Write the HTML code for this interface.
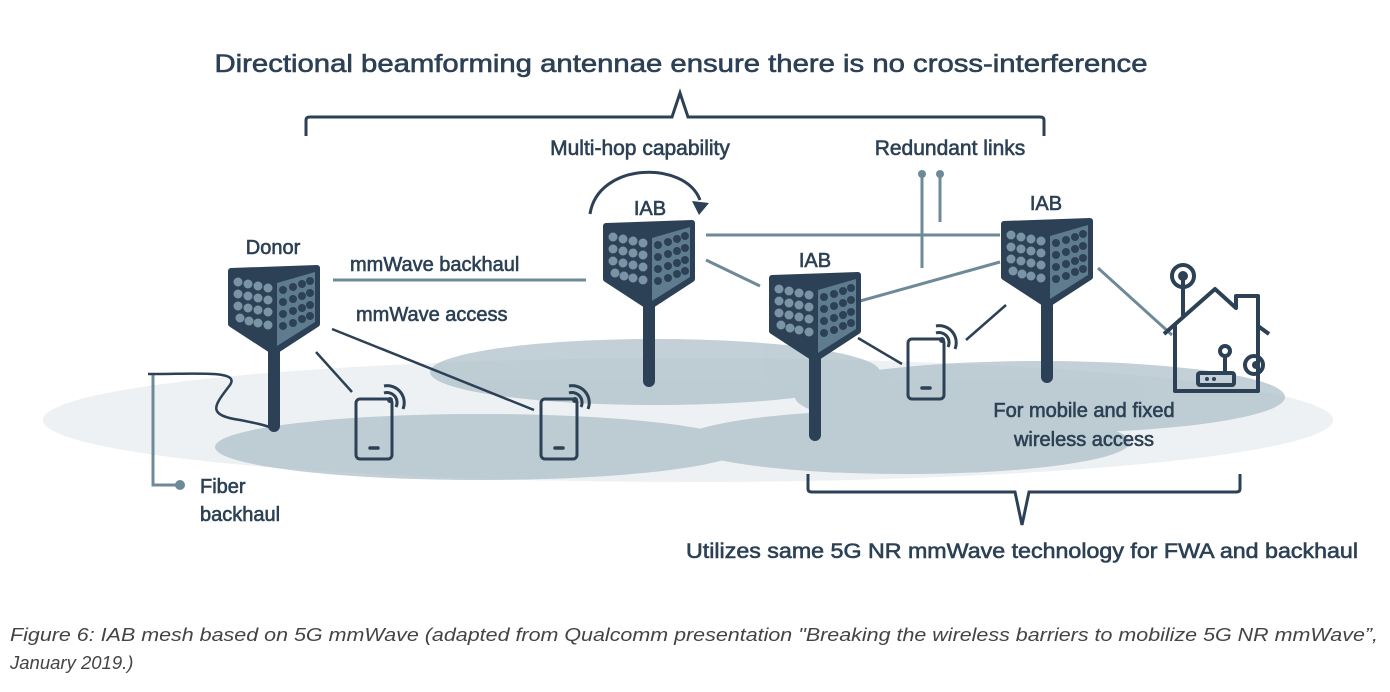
<!DOCTYPE html>
<html><head><meta charset="utf-8"><style>
body{margin:0;background:#fff}
svg{display:block}
text{font-family:"Liberation Sans",sans-serif;fill:#2c4155}
.t{stroke:#2c4155;stroke-width:0.6}
</style></head><body>
<svg width="1390" height="692" viewBox="0 0 1390 692" xmlns="http://www.w3.org/2000/svg">
<defs>
<g id="ant">
  <polygon points="3,5 89,2 89,58 46,86 3,58" fill="#2c4155" stroke="#2c4155" stroke-width="6" stroke-linejoin="round"/>
  <polygon points="49,17 87,6 87,56 49,80" fill="#5f7c8e"/>
  <g fill="#7a94a5">
    <circle cx="10" cy="16" r="4.5"/><circle cx="20" cy="18" r="4.5"/><circle cx="30" cy="20" r="4.5"/><circle cx="40" cy="22" r="4.5"/>
    <circle cx="10" cy="28" r="4.5"/><circle cx="20" cy="30" r="4.5"/><circle cx="30" cy="32" r="4.5"/><circle cx="40" cy="34" r="4.5"/>
    <circle cx="10" cy="40" r="4.5"/><circle cx="20" cy="42" r="4.5"/><circle cx="30" cy="44" r="4.5"/><circle cx="40" cy="46" r="4.5"/>
    <circle cx="12" cy="52" r="4.5"/><circle cx="21" cy="55" r="4.5"/><circle cx="30" cy="57" r="4.5"/><circle cx="40" cy="59" r="4.5"/>
  </g>
  <g fill="#2c4155">
    <circle cx="55" cy="24" r="4"/><circle cx="65" cy="21" r="4"/><circle cx="74" cy="18" r="4"/><circle cx="82" cy="15" r="4"/>
    <circle cx="55" cy="36" r="4"/><circle cx="65" cy="33" r="4"/><circle cx="74" cy="30" r="4"/><circle cx="82" cy="27" r="4"/>
    <circle cx="55" cy="48" r="4"/><circle cx="65" cy="45" r="4"/><circle cx="74" cy="42" r="4"/><circle cx="82" cy="39" r="4"/>
    <circle cx="55" cy="60" r="4"/><circle cx="65" cy="57" r="4"/><circle cx="74" cy="53" r="4"/><circle cx="82" cy="50" r="4"/>
  </g>
</g>
<g id="phone" fill="none" stroke="#2c4155" stroke-width="3">
  <rect x="0" y="0" width="36" height="60" rx="4"/>
  <line x1="14" y1="49" x2="22" y2="49" stroke-width="3.5" stroke-linecap="round"/>
  <path d="M28,-6 A10,10 0 0 1 40,8"/>
  <path d="M28,-13 A17,17 0 0 1 47,10"/>
  <circle cx="34" cy="1" r="3" fill="#2c4155" stroke="none"/>
</g>
</defs>

<!-- ground -->
<ellipse cx="688" cy="420" rx="645" ry="62" fill="#eef1f3"/>
<g fill="#a9bcc6" opacity="0.7">
<ellipse cx="480" cy="447" rx="265" ry="33"/>
<ellipse cx="655" cy="372" rx="225" ry="33"/>
<ellipse cx="905" cy="442" rx="225" ry="32"/>
<ellipse cx="1040" cy="397" rx="245" ry="36"/>
</g>

<!-- title & brackets -->
<text class="t" x="681" y="72" font-size="25" text-anchor="middle" textLength="933" lengthAdjust="spacingAndGlyphs">Directional beamforming antennae ensure there is no cross-interference</text>
<path d="M306,136 L306,120 Q306,117 310,117 L672,117 L680,93 L688,117 L1040,117 Q1044,117 1044,120 L1044,136" fill="none" stroke="#2c4155" stroke-width="3"/>
<path d="M808,474 L808,489 Q808,492 812,492 L1015,492 L1022,525 L1029,492 L1236,492 Q1240,492 1240,489 L1240,474" fill="none" stroke="#2c4155" stroke-width="3"/>

<text class="t" x="640" y="155" font-size="21" text-anchor="middle">Multi-hop capability</text>
<text class="t" x="950" y="155" font-size="21" text-anchor="middle">Redundant links</text>
<text class="t" x="273" y="254" font-size="20" text-anchor="middle">Donor</text>
<text class="t" x="650" y="215" font-size="20" text-anchor="middle">IAB</text>
<text class="t" x="815" y="267" font-size="20" text-anchor="middle">IAB</text>
<text class="t" x="1046" y="210" font-size="20" text-anchor="middle">IAB</text>
<text class="t" x="350" y="271" font-size="20">mmWave backhaul</text>
<text class="t" x="356" y="321" font-size="20">mmWave access</text>
<text class="t" x="1084" y="417" font-size="20" text-anchor="middle">For mobile and fixed</text>
<text class="t" x="1084" y="446" font-size="20" text-anchor="middle">wireless access</text>
<text class="t" x="200" y="493" font-size="20">Fiber</text>
<text class="t" x="200" y="521" font-size="20">backhaul</text>
<text class="t" x="1022" y="558" font-size="21" text-anchor="middle" textLength="672" lengthAdjust="spacingAndGlyphs">Utilizes same 5G NR mmWave technology for FWA and backhaul</text>

<!-- multi-hop arrow -->
<path d="M590,214 C598,162 685,160 700,200" fill="none" stroke="#2c4155" stroke-width="3"/>
<polygon points="692,201 709,203 699,215" fill="#2c4155"/>

<!-- gray links -->
<g stroke="#6e8a98" stroke-width="3" fill="none">
<line x1="333" y1="280" x2="586" y2="280"/>
<line x1="706" y1="235" x2="1000" y2="235"/>
<line x1="706" y1="260" x2="760" y2="286"/>
<line x1="860" y1="301" x2="1000" y2="262"/>
<line x1="922" y1="175" x2="922" y2="268"/>
<line x1="940" y1="175" x2="940" y2="222"/>
<line x1="1098" y1="268" x2="1172" y2="335"/>
<path d="M153,373 L153,485 L180,485"/>
</g>
<g fill="#6e8a98"><circle cx="922" cy="174" r="4"/><circle cx="940" cy="174" r="4"/><circle cx="180" cy="485" r="5"/></g>

<!-- dark links -->
<g stroke="#2c4155" stroke-width="2.5" fill="none">
<line x1="316" y1="352" x2="352" y2="392"/>
<line x1="332" y1="329" x2="534" y2="410"/>
<line x1="858" y1="338" x2="902" y2="364"/>
<line x1="966" y1="340" x2="1006" y2="305"/>
<path d="M148,374 C200,374 240,370 230,385 C215,405 205,415 240,420 C255,423 265,425 272,428"/>
</g>

<!-- antennas -->
<g stroke="#2c4155" stroke-width="12" stroke-linecap="round">
<line x1="274" y1="340" x2="274" y2="426"/>
<line x1="649" y1="290" x2="649" y2="381"/>
<line x1="815" y1="345" x2="815" y2="435"/>
<line x1="1047" y1="290" x2="1047" y2="377"/>
</g>
<use href="#ant" transform="translate(228,266)"/>
<use href="#ant" transform="translate(603,221)"/>
<use href="#ant" transform="translate(769,273)"/>
<use href="#ant" transform="translate(1001,219)"/>

<!-- phones -->
<use href="#phone" transform="translate(356,399)"/>
<use href="#phone" transform="translate(541,399)"/>
<use href="#phone" transform="translate(908,339)"/>

<!-- house -->
<g fill="none" stroke="#2c4155" stroke-width="4" stroke-linejoin="round">
<path d="M1164,334 L1215,289 L1236,308 L1236,296 L1258,296 L1258,326 L1269,334"/>
<path d="M1175,324 L1175,391 L1258,391 L1258,326"/>
<line x1="1183" y1="278" x2="1183" y2="316"/>
<circle cx="1183" cy="276" r="11"/>
<circle cx="1225" cy="351" r="5"/>
<line x1="1225" y1="356" x2="1225" y2="373"/>
<rect x="1198" y="373" width="36" height="12" rx="2"/>
<circle cx="1254" cy="365" r="9"/>
</g>
<g fill="#2c4155"><circle cx="1183" cy="276" r="5"/><circle cx="1207" cy="379" r="2"/><circle cx="1214" cy="379" r="2"/><circle cx="1256" cy="365" r="4"/></g>

<!-- caption -->
<text x="10" y="641" font-size="18.5" font-style="italic" style="fill:#444" textLength="1368" lengthAdjust="spacingAndGlyphs">Figure 6: IAB mesh based on 5G mmWave (adapted from Qualcomm presentation "Breaking the wireless barriers to mobilize 5G NR mmWave”,</text>
<text x="10" y="669" font-size="18.5" font-style="italic" style="fill:#444">January 2019.)</text>
</svg>
</body></html>
